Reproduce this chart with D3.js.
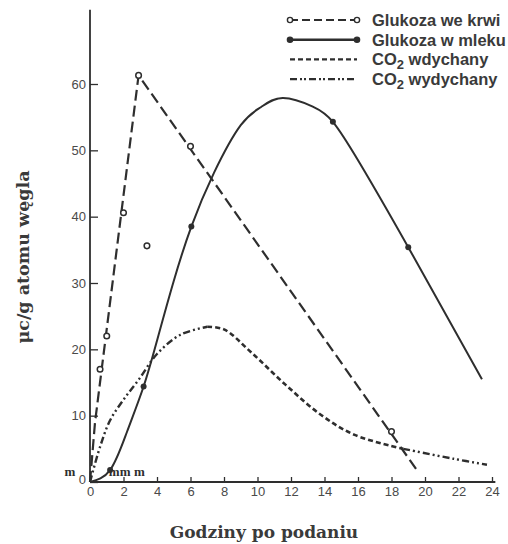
<!DOCTYPE html>
<html>
<head>
<meta charset="utf-8">
<script src="https://cdn.jsdelivr.net/npm/d3@7"></script>
<style>
  body { margin: 0; background: #fff; }
  svg { display: block; }
</style>
</head>
<body>
<div id="chart"></div>
<script>
// hours on x, microcurie per g carbon on y
var hourTicks = [0, 2, 4, 6, 8, 10, 12, 14, 16, 18, 20, 22, 24];
var valueTicks = [0, 10, 20, 30, 40, 50, 60];

// Glukoza we krwi - dashed line + open circles
var bloodLineHours = [0, 0.3, 2.9, 19.6];
var bloodLineValues = [0, 9, 61.3, 1.5];
var bloodPtHours = [0.6, 1.0, 2.0, 3.4, 2.9, 6.0, 18.0];
var bloodPtValues = [17, 22, 40.6, 35.6, 61.3, 50.6, 7.6];

// Glukoza w mleku - solid line + dots
var milkHours = [0, 1.2, 2.2, 3.2, 4, 5, 6.05, 7.4, 9, 10.2, 11.5, 13.3, 14.5, 16.1, 19, 23.4];
var milkValues = [0, 1.8, 7.5, 14.4, 21.3, 30.3, 38.5, 46.6, 53.8, 56.5, 57.9, 56.6, 54.3, 48.1, 35.4, 15.5];
var milkPtHours = [1.2, 3.2, 6.05, 14.5, 19.0];
var milkPtValues = [1.8, 14.4, 38.5, 54.3, 35.4];

// CO2 wdychany - short dashes (falling part)
var co2InHours = [7, 8, 9.6, 11.7, 13.8, 15.8, 18.7];
var co2InValues = [23.4, 23, 19.6, 14.6, 10.1, 7.1, 5];

// CO2 wydychany - dash dot dot (rise and tail), null = gap
var co2OutHours = [0, 0.6, 1.2, 2, 2.9, 4, 5.4, 7, null, 18.7, 21.7, 23.7];
var co2OutValues = [0, 5.3, 9.3, 12.4, 15.4, 19.3, 22.2, 23.4, null, 5, 3.5, 2.6];

// "m" marks near the origin
var markHours = [-1.2, 1.45, 2.1, 2.95];
var markValues = [0.9, 0.9, 0.9, 0.9];

var width = 508, height = 544;
var ink = "#2e2e2e";

var svg = d3.select("#chart").append("svg")
  .attr("width", width)
  .attr("height", height);

var x = d3.scaleLinear().domain([0, 24]).range([90, 492]);
var y = d3.scaleLinear().domain([0, 60]).range([482, 84]);

// axes
var xAxis = d3.axisBottom(x).tickValues(hourTicks).tickSize(-5).tickPadding(5);
var yAxis = d3.axisLeft(y).tickValues(valueTicks).tickSize(-8).tickPadding(4);

var gx = svg.append("g")
  .attr("transform", "translate(0," + y(0) + ")")
  .call(xAxis);
var gy = svg.append("g")
  .attr("transform", "translate(" + x(0) + ",0)")
  .call(yAxis);

[gx, gy].forEach(function(g) {
  g.select(".domain").remove();
  g.selectAll("line").attr("stroke", ink).attr("stroke-width", 1.3);
  g.selectAll("text")
    .attr("fill", "#4a4a4a")
    .style("font-family", "'Liberation Sans', Arial, sans-serif")
    .style("font-size", "13px");
});
gy.selectAll(".tick").filter(function(d) { return d === 0; }).select("text")
  .attr("dy", "0.1em");

// axis lines
svg.append("line")
  .attr("x1", x(0)).attr("x2", x(24.2))
  .attr("y1", y(0)).attr("y2", y(0))
  .attr("stroke", ink).attr("stroke-width", 1.8);
svg.append("line")
  .attr("x1", x(0)).attr("x2", x(0))
  .attr("y1", y(0)).attr("y2", y(71.2))
  .attr("stroke", ink).attr("stroke-width", 1.8);

function pairs(xs, ys) {
  return xs.map(function(d, i) { return [d, ys[i]]; });
}

var straight = d3.line()
  .x(function(d) { return x(d[0]); })
  .y(function(d) { return y(d[1]); });

var smooth = d3.line()
  .defined(function(d) { return d[0] !== null; })
  .x(function(d) { return x(d[0]); })
  .y(function(d) { return y(d[1]); })
  .curve(d3.curveCatmullRom.alpha(0.5));

var natural = d3.line()
  .x(function(d) { return x(d[0]); })
  .y(function(d) { return y(d[1]); })
  .curve(d3.curveNatural);

// blood glucose
svg.append("path")
  .datum(pairs(bloodLineHours, bloodLineValues))
  .attr("d", straight)
  .attr("fill", "none").attr("stroke", ink)
  .attr("stroke-width", 2.2).attr("stroke-dasharray", "11,5");

// milk glucose
svg.append("path")
  .datum(pairs(milkHours, milkValues))
  .attr("d", natural)
  .attr("fill", "none").attr("stroke", ink)
  .attr("stroke-width", 2);

// CO2 curves
svg.append("path")
  .datum(pairs(co2InHours, co2InValues))
  .attr("d", smooth)
  .attr("fill", "none").attr("stroke", ink)
  .attr("stroke-width", 2.6).attr("stroke-dasharray", "5,3");

svg.append("path")
  .datum(pairs(co2OutHours, co2OutValues))
  .attr("d", smooth)
  .attr("fill", "none").attr("stroke", ink)
  .attr("stroke-width", 2.4).attr("stroke-dasharray", "7,3,2,3,2,3");

// markers
svg.selectAll("circle.blood")
  .data(pairs(bloodPtHours, bloodPtValues))
  .enter().append("circle")
  .attr("class", "blood")
  .attr("cx", function(d) { return x(d[0]); })
  .attr("cy", function(d) { return y(d[1]); })
  .attr("r", 2.8)
  .attr("fill", "#fff").attr("stroke", ink).attr("stroke-width", 1.5);

svg.selectAll("circle.milk")
  .data(pairs(milkPtHours, milkPtValues))
  .enter().append("circle")
  .attr("class", "milk")
  .attr("cx", function(d) { return x(d[0]); })
  .attr("cy", function(d) { return y(d[1]); })
  .attr("r", 3)
  .attr("fill", ink);

svg.selectAll("text.mark")
  .data(pairs(markHours, markValues))
  .enter().append("text")
  .attr("class", "mark")
  .attr("x", function(d) { return x(d[0]); })
  .attr("y", function(d) { return y(d[1]); })
  .attr("text-anchor", "middle")
  .attr("fill", ink)
  .style("font-family", "'Liberation Serif', 'Times New Roman', serif")
  .style("font-weight", "bold")
  .style("font-size", "13px")
  .text("m");

// legend
var legendItems = [
  { name: "Glukoza we krwi", dash: "8,4", width: 2, marker: "open" },
  { name: "Glukoza w mleku", dash: null, width: 2.4, marker: "dot" },
  { name: "CO2 wdychany", dash: "5,3", width: 2.4, marker: null },
  { name: "CO2 wydychany", dash: "7,3,2,2,2,3", width: 2.4, marker: null }
];

var legend = svg.append("g").attr("transform", "translate(290,20)");
var rows = legend.selectAll("g").data(legendItems).enter().append("g")
  .attr("transform", function(d, i) { return "translate(0," + (i * 19.7) + ")"; });

rows.append("line")
  .attr("x1", 0).attr("x2", 67)
  .attr("stroke", ink)
  .attr("stroke-width", function(d) { return d.width; })
  .attr("stroke-dasharray", function(d) { return d.dash; });

rows.filter(function(d) { return d.marker; }).each(function(d) {
  var g = d3.select(this);
  [0, 67].forEach(function(cx) {
    g.append("circle")
      .attr("cx", cx).attr("r", 2.6)
      .attr("fill", d.marker === "open" ? "#fff" : ink)
      .attr("stroke", ink).attr("stroke-width", 1.4);
  });
});

var labels = rows.append("text")
  .attr("x", 82).attr("y", 6)
  .attr("fill", "#3a3a3a")
  .style("font-family", "'Liberation Sans', Arial, sans-serif")
  .style("font-weight", "bold")
  .style("font-size", "16.5px");

labels.each(function(d) {
  var t = d3.select(this);
  if (d.name.indexOf("CO2") === 0) {
    t.append("tspan").text("CO");
    t.append("tspan").attr("dy", 4).style("font-size", "13px").text("2");
    t.append("tspan").attr("dy", -4).text(d.name.slice(3));
  } else {
    t.text(d.name);
  }
});

// axis titles
svg.append("text")
  .attr("x", 264).attr("y", 538)
  .attr("text-anchor", "middle")
  .attr("fill", "#3a3a3a")
  .style("font-family", "'DejaVu Serif', serif")
  .style("font-weight", "bold")
  .style("font-size", "17px")
  .text("Godziny po podaniu");

svg.append("text")
  .attr("transform", "translate(29,257) rotate(-90)")
  .attr("text-anchor", "middle")
  .attr("fill", "#3a3a3a")
  .style("font-family", "'DejaVu Serif', serif")
  .style("font-weight", "bold")
  .style("font-size", "17.5px")
  .text("μc/g atomu węgla");
</script>
</body>
</html>
